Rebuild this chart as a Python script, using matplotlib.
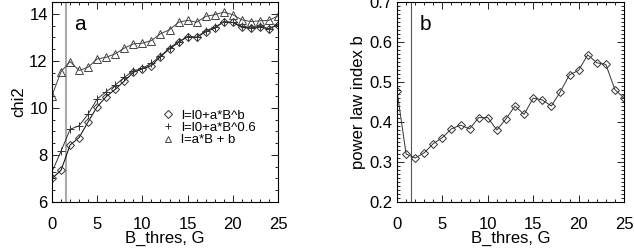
import numpy as np
import matplotlib
matplotlib.use('Agg')
import matplotlib.pyplot as plt
from matplotlib.ticker import MultipleLocator

plt.rcParams['font.family'] = ['Liberation Sans', 'DejaVu Sans']

# threshold values, G
b_thres = list(range(26))

# chi2 for the three fits
chi2_powb = [7.00, 7.35, 8.42, 8.74, 9.41, 10.05, 10.48, 10.79, 11.14, 11.51, 11.66, 11.80, 12.18,
             12.51, 12.78, 13.03, 13.00, 13.23, 13.39, 13.66, 13.63, 13.42, 13.39, 13.43, 13.36, 13.53]
chi2_pow06 = [7.28, 8.16, 9.09, 9.24, 9.74, 10.38, 10.69, 10.97, 11.30, 11.57, 11.68, 11.90, 12.21,
              12.54, 12.82, 13.03, 13.00, 13.28, 13.43, 13.66, 13.63, 13.46, 13.39, 13.46, 13.36, 13.57]
chi2_lin = [10.52, 11.54, 11.97, 11.59, 11.73, 12.08, 12.15, 12.30, 12.54, 12.72, 12.75, 12.86, 13.15,
            13.32, 13.64, 13.72, 13.64, 13.89, 13.96, 14.07, 13.96, 13.74, 13.67, 13.70, 13.72, 13.91]

# power law index b
index_b = [0.478, 0.320, 0.310, 0.323, 0.346, 0.361, 0.383, 0.392, 0.383, 0.411, 0.411, 0.380, 0.408,
           0.440, 0.419, 0.460, 0.455, 0.440, 0.476, 0.518, 0.529, 0.568, 0.548, 0.544, 0.481, 0.460]

vline_x = 1.55

fig = plt.figure(figsize=(6.34, 2.48), dpi=100)
W, H = 634.0, 248.0
ax1 = fig.add_axes([52 / W, 46 / H, 226 / W, 200 / H])
ax2 = fig.add_axes([397 / W, 46 / H, 227 / W, 200 / H])

fs = 12
lw = 0.7

# panel a
ax1.axvline(vline_x, color='#aaaaaa', lw=1.5, zorder=1)
ax1.plot(b_thres, chi2_powb, color='k', lw=lw, marker='D', ms=4.3, mfc='none', mec='#333333', mew=0.7,
         label='l=l0+a*B^b')
ax1.plot(b_thres, chi2_pow06, color='#333333', lw=lw, marker='+', ms=6, mew=0.7,
         label='l=l0+a*B^0.6')
ax1.plot(b_thres, chi2_lin, color='#444444', lw=lw, marker='^', ms=6, mfc='none', mec='#444444', mew=0.7,
         label='l=a*B + b')
ax1.set_xlim(0, 25)
ax1.set_ylim(6, 14.5)
ax1.yaxis.set_major_locator(MultipleLocator(2))
ax1.yaxis.set_minor_locator(MultipleLocator(0.5))
ax1.set_ylabel('chi2', fontsize=fs, labelpad=2)
ax1.text(0.1, 0.86, 'a', transform=ax1.transAxes, fontsize=15)

leg = ax1.legend(loc='upper left', bbox_to_anchor=(0.46, 0.495), frameon=False, fontsize=9.5,
                 handlelength=0.8, handletextpad=0.6, labelspacing=0.0, borderpad=0)
for h in leg.legend_handles:
    h.set_linestyle('none')
    h.set_markersize(4.5)

# panel b
ax2.axvline(vline_x, color='#555555', lw=0.8, zorder=1)
ax2.plot(b_thres, index_b, color='#333333', lw=lw, marker='D', ms=4.3, mfc='none', mec='#333333', mew=0.7)
ax2.set_xlim(0, 25)
ax2.set_ylim(0.2, 0.7)
ax2.yaxis.set_major_locator(MultipleLocator(0.1))
ax2.yaxis.set_minor_locator(MultipleLocator(0.01))
ax2.set_ylabel('power law index b', fontsize=fs, labelpad=3)
ax2.text(0.1, 0.86, 'b', transform=ax2.transAxes, fontsize=15)

for ax in (ax1, ax2):
    ax.xaxis.set_major_locator(MultipleLocator(5))
    ax.xaxis.set_minor_locator(MultipleLocator(1))
    ax.set_xlabel('B_thres, G', fontsize=fs, labelpad=-1)
    ax.tick_params(which='both', direction='in', top=True, right=True, labelsize=fs, width=0.6)
    ax.tick_params(axis='x', pad=11)
    ax.tick_params(axis='y', pad=3)
    ax.tick_params(which='major', length=5)
    ax.tick_params(which='minor', length=2.5)
    for s in ax.spines.values():
        s.set_linewidth(0.8)

fig.savefig('out.png', dpi=100)
